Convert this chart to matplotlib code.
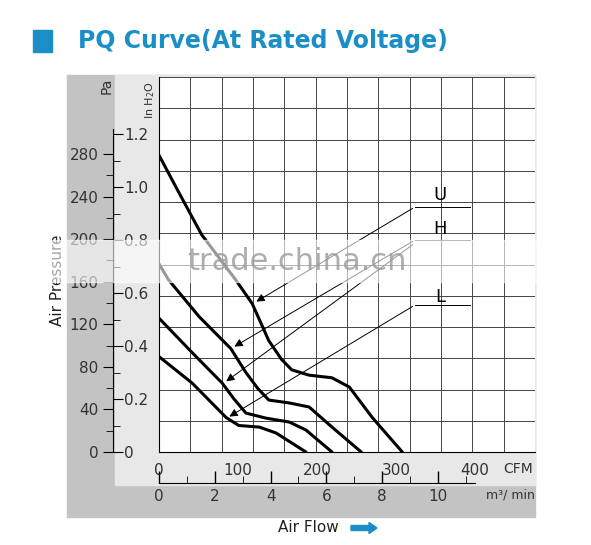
import matplotlib
matplotlib.use("Agg")
import matplotlib.pyplot as plt
from matplotlib.patches import Rectangle, FancyArrow

W, H = 591, 545
fig = plt.figure(figsize=(W/100, H/100), dpi=100)
fig.patch.set_facecolor("white")

def fx(x): return x / W
def fy(y): return 1 - y / H

# data (CFM, inH2O)
u_x = [0, 25, 54, 97, 118, 139, 155, 168, 190, 219, 241, 270, 308]
u_y = [1.12, 0.98, 0.82, 0.65, 0.56, 0.42, 0.35, 0.31, 0.29, 0.28, 0.245, 0.13, 0]
h_x = [0, 12, 51, 91, 110, 125, 139, 165, 190, 219, 256]
h_y = [0.71, 0.65, 0.51, 0.39, 0.30, 0.24, 0.196, 0.185, 0.17, 0.094, 0]
m_x = [0, 42, 80, 95, 110, 135, 165, 186, 219]
m_y = [0.505, 0.375, 0.26, 0.2, 0.147, 0.128, 0.113, 0.083, 0]
l_x = [0, 42, 85, 101, 127, 148, 186]
l_y = [0.36, 0.26, 0.13, 0.10, 0.094, 0.072, 0]
curve_labels = ["U", "H", "L"]
pa_ticks = [0, 40, 80, 120, 160, 200, 240, 280]
in_ticks = [0, 0.2, 0.4, 0.6, 0.8, 1.0, 1.2]
cfm_ticks = [0, 100, 200, 300, 400]
m3_ticks = [0, 2, 4, 6, 8, 10]

XMAX = 476
YMAX = (452 - 77) / 265.0

# backgrounds
fig.patches.append(Rectangle((fx(67), fy(517)), fx(535-67), (517-75)/H, transform=fig.transFigure, color="#c3c3c3", zorder=-10))
fig.patches.append(Rectangle((fx(115), fy(485)), fx(535-115), (485-75)/H, transform=fig.transFigure, color="#e8e8e8", zorder=-9))

# title
fig.patches.append(Rectangle((fx(33), fy(52)), fx(19), 22/H, transform=fig.transFigure, color="#1a8fc7"))
fig.text(fx(78), fy(41), "PQ Curve(At Rated Voltage)", color="#1a8fc7", fontsize=17, fontweight="bold", va="center")

# main axes
ax = fig.add_axes([fx(159), fy(452), fx(535-159), (452-77)/H])
ax.set_facecolor("white")
ax.set_xlim(0, XMAX); ax.set_ylim(0, YMAX)
ax.set_xticks([XMAX/12*i for i in range(13)]); ax.set_yticks([YMAX/12*i for i in range(13)])
ax.grid(True, color="#444444", lw=0.7)
ax.tick_params(length=0, labelbottom=False, labelleft=False)
for s in ax.spines.values(): s.set_visible(False)
ax.spines['left'].set_visible(True); ax.spines['bottom'].set_visible(True)
for xs, ys in [(u_x, u_y), (h_x, h_y), (m_x, m_y), (l_x, l_y)]:
    ax.plot(xs, ys, color="black", lw=2.2, solid_capstyle="round", solid_joinstyle="round")

# leader lines
def px2d(x, y): return ((x-159)/0.79, (452-y)/265.0)
leaders = [((415, 207), (254, 303)), ((415, 240), (232, 348)), ((415, 243), (224, 383)), ((415, 305), (227, 418))]
for (a, b) in leaders:
    ax.annotate("", xy=px2d(*b), xytext=px2d(*a),
                arrowprops=dict(arrowstyle="-|>", color="black", lw=0.7, mutation_scale=12), annotation_clip=False)
for lab, (yy, ly) in zip(curve_labels, [(195, 207), (229, 240), (297, 305)]):
    ax.text(*px2d(440, yy), lab, fontsize=13, ha="center", va="center")
    ax.plot(*zip(px2d(415, ly), px2d(470, ly)), color="black", lw=0.7, clip_on=False)

# CFM labels
for t in cfm_ticks:
    ax.text(t, -0.04, str(t), ha="center", va="top", fontsize=11, color="#333333", clip_on=False)
fig.text(fx(503), fy(469), "CFM", fontsize=10, color="#333333", va="center")

# m3/min axis
axm = fig.add_axes([fx(159), fy(483), fx(535-159), 0.0001])
axm.set_xlim(0, XMAX/35.31)
axm.set_xticks(m3_ticks); axm.set_xticks(range(12), minor=True)
axm.set_xticklabels([str(t) for t in m3_ticks])
axm.set_yticks([])
for k in ['left', 'right', 'top']: axm.spines[k].set_visible(False)
axm.spines['bottom'].set_bounds(0, 400/35.31)
axm.patch.set_alpha(0)
axm.tick_params(axis='x', direction='in', length=9, width=1, labelsize=11, labelcolor="#333333", pad=4)
axm.tick_params(axis='x', which='minor', direction='in', length=5)
fig.text(fx(486), fy(495), "m³/ min", fontsize=9, color="#333333", va="center")

# pressure axes
axp = fig.add_axes([fx(113), fy(452), fx(159-113), (452-77)/H])
axp.set_ylim(0, YMAX*249)
axp.patch.set_alpha(0)
axp.set_xticks([])
axp.set_yticks(pa_ticks); axp.set_yticks([20+40*i for i in range(7)], minor=True)
axp.tick_params(axis='y', direction='out', length=7, labelsize=11, labelcolor="#333333")
axp.tick_params(axis='y', which='minor', length=5)
for k in ['right', 'top', 'bottom']: axp.spines[k].set_visible(False)
axp.spines['left'].set_bounds(0, 1.22*249)
axi = axp.twinx()
axi.set_ylim(0, YMAX)
axi.spines['right'].set_position(('axes', 0))
for k in ['left', 'top', 'bottom', 'right']: axi.spines[k].set_visible(False)
axi.set_yticks(in_ticks); axi.set_yticklabels(["0"] + ["%.1f" % t for t in in_ticks[1:]])
axi.set_yticks([0.1+0.2*i for i in range(6)], minor=True)
axi.tick_params(axis='y', direction='out', length=7, pad=1, labelsize=11, labelcolor="#333333")
axi.tick_params(axis='y', which='minor', length=5)

fig.text(fx(57), fy(280), "Air Pressure", rotation=90, fontsize=11, ha="center", va="center", color="#222222")
fig.text(fx(107), fy(86), "Pa", rotation=90, fontsize=10, ha="center", va="center", color="#333333")
fig.text(fx(150), fy(100), "In H$_2$O", rotation=90, fontsize=8, ha="center", va="center", color="#333333")
fig.text(fx(308), fy(528), "Air Flow", fontsize=11, ha="center", va="center", color="#222222")
fig.patches.append(FancyArrow(fx(351), fy(528), fx(18), 0, width=5/H, head_width=11/H, head_length=fx(8),
                              transform=fig.transFigure, color="#1a8fc7"))

# watermark band
fig.patches.append(Rectangle((fx(30), fy(282)), fx(530), 42/H, transform=fig.transFigure, color="white", alpha=0.6, zorder=5))
fig.text(fx(297), fy(262), "trade.china.cn", fontsize=22, color="#999999", ha="center", va="center", alpha=0.8, zorder=6)

fig.savefig("out.png", dpi=100)
